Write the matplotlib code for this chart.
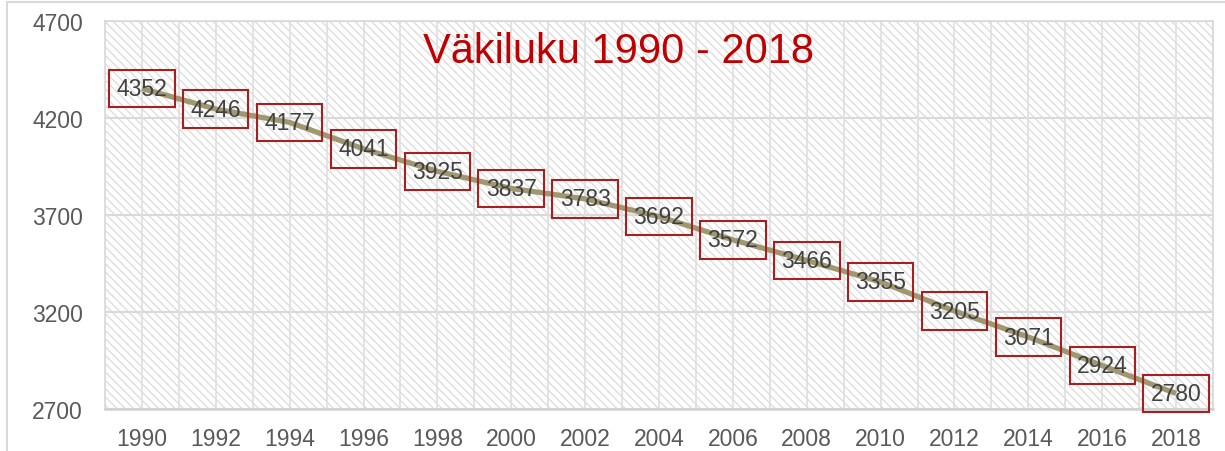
import matplotlib
matplotlib.use('Agg')
import matplotlib.pyplot as plt
from matplotlib.patches import Rectangle

# Population data, every second year
years = ['1990', '1992', '1994', '1996', '1998', '2000', '2002', '2004',
         '2006', '2008', '2010', '2012', '2014', '2016', '2018']
population = [4352, 4246, 4177, 4041, 3925, 3837, 3783, 3692,
              3572, 3466, 3355, 3205, 3071, 2924, 2780]
y_ticks = [2700, 3200, 3700, 4200, 4700]
title = 'Väkiluku 1990 - 2018'

plt.rcParams['font.family'] = ['Liberation Sans', 'DejaVu Sans']
plt.rcParams['hatch.linewidth'] = 1.0

fig = plt.figure(figsize=(12.25, 4.52), dpi=100)
ax = fig.add_axes([105 / 1225, 42 / 452, 1108 / 1225, 388 / 452])

x = list(range(len(years)))

# hatched background of the plot area
bg = Rectangle((0, 0), 1, 1, transform=ax.transAxes, facecolor='white',
               edgecolor='#DEDEDE', linewidth=0, hatch='\\\\\\\\', zorder=0)
ax.add_patch(bg)

# gridlines: horizontal at the ticks, vertical every half category
for yt in y_ticks:
    ax.axhline(yt, color='#D9D9D9', linewidth=1.5, zorder=1)
for k in range(2 * len(years) + 1):
    ax.axvline(-0.5 + k * 0.5, color='#E0E0E0', linewidth=1.3, zorder=1)

ax.plot(x, population, color='#A09670', linewidth=3.8, zorder=3,
        solid_capstyle='butt')

# data labels in red boxes
for xi, v in zip(x, population):
    ax.text(xi, v, str(v), ha='center', va='center', fontsize=16.5,
            color='#404040', zorder=4,
            bbox=dict(boxstyle='square,pad=0.32', facecolor='none',
                      edgecolor='#A52121', linewidth=1.5))

ax.set_xlim(-0.5, len(years) - 0.5)
ax.set_ylim(2700, 4700)
ax.set_xticks(x)
ax.set_xticklabels(years)
ax.set_yticks(y_ticks)
ax.tick_params(axis='both', length=0, labelsize=16.5, labelcolor='#595959')
ax.tick_params(axis='y', pad=16)
ax.tick_params(axis='x', pad=13)

for side in ['top', 'right', 'left']:
    ax.spines[side].set_color('#D9D9D9')
    ax.spines[side].set_linewidth(1.2)
ax.spines['bottom'].set_color('#D0D0D0')
ax.spines['bottom'].set_linewidth(1.8)
ax.set_facecolor('white')

fig.text(618 / 1225, 1 - 63 / 452, title, ha='center', va='baseline',
         fontsize=30, color='#C00000')

# chart area border
border = Rectangle((7 / 1225, -0.1), 1.2, 1.1 - 3 / 452, transform=fig.transFigure,
                   facecolor='none', edgecolor='#D9D9D9', linewidth=1.5)
fig.patches.append(border)

fig.savefig('out.png', dpi=100)
